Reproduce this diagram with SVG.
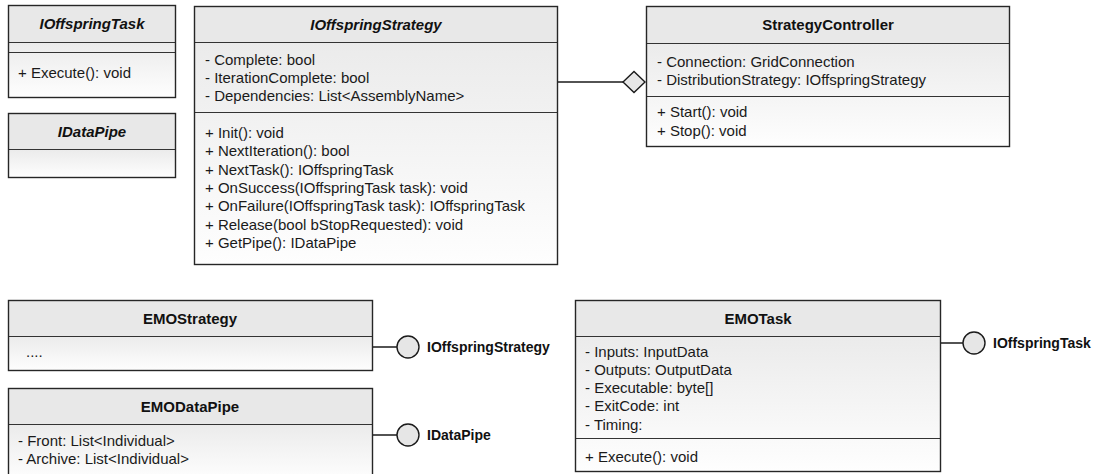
<svg xmlns="http://www.w3.org/2000/svg" width="1094" height="474" viewBox="0 0 1094 474">
<style>
  .hdr { fill: #e8e8e8; stroke: none; }
  .body { fill: url(#bodyGrad); stroke: none; }
  .frame { fill: none; stroke: #262626; stroke-width: 1.4; }
  .div { stroke: #333; stroke-width: 1.1; }
  .title { font-family: "Liberation Sans", Arial, sans-serif; font-size: 15px; font-weight: bold; fill: #111; text-anchor: middle; }
  .ital { font-style: italic; }
  .txt { font-family: "Liberation Sans", Arial, sans-serif; font-size: 15px; fill: #1a1a1a; }
  .lbl { font-family: "Liberation Sans", Arial, sans-serif; font-size: 14px; font-weight: bold; fill: #111; }
  .conn { stroke: #1a1a1a; stroke-width: 1.5; fill: none; }
  .lolly { fill: #e6e6e6; stroke: #1a1a1a; stroke-width: 1.4; }
</style>
<defs>
  <linearGradient id="bodyGrad" x1="0" y1="0" x2="0" y2="1">
    <stop offset="0" stop-color="#ebebeb"/>
    <stop offset="1" stop-color="#fefefe"/>
  </linearGradient>
</defs>

<g id="IOffspringTask">
  <rect class="hdr" x="8.5" y="5.5" width="167" height="37"/>
  <rect class="body" x="8.5" y="42.5" width="167" height="55"/>
  <line class="div" x1="8.5" y1="42.5" x2="175.5" y2="42.5"/>
  <line class="div" x1="8.5" y1="52.5" x2="175.5" y2="52.5"/>
  <rect class="frame" x="8.5" y="5.5" width="167" height="92"/>
  <text class="title ital" x="92" y="29">IOffspringTask</text>
  <text class="txt" x="18" y="78">+ Execute(): void</text>
</g>

<g id="IDataPipe">
  <rect class="hdr" x="8.5" y="113.5" width="167" height="36"/>
  <rect class="body" x="8.5" y="149.5" width="167" height="28"/>
  <line class="div" x1="8.5" y1="149.5" x2="175.5" y2="149.5"/>
  <rect class="frame" x="8.5" y="113.5" width="167" height="64"/>
  <text class="title ital" x="92" y="136.5">IDataPipe</text>
</g>

<g id="IOffspringStrategy">
  <rect class="hdr" x="194.5" y="6.5" width="363" height="36"/>
  <rect class="body" x="194.5" y="42.5" width="363" height="222"/>
  <line class="div" x1="194.5" y1="42.5" x2="557.5" y2="42.5"/>
  <line class="div" x1="194.5" y1="112.5" x2="557.5" y2="112.5"/>
  <rect class="frame" x="194.5" y="6.5" width="363" height="258"/>
  <text class="title ital" x="376" y="29.5">IOffspringStrategy</text>
  <text class="txt" x="205" y="65">- Complete: bool</text>
  <text class="txt" x="205" y="83">- IterationComplete: bool</text>
  <text class="txt" x="205" y="101">- Dependencies: List&lt;AssemblyName&gt;</text>
  <text class="txt" x="205" y="138">+ Init(): void</text>
  <text class="txt" x="205" y="156.3">+ NextIteration(): bool</text>
  <text class="txt" x="205" y="174.6">+ NextTask(): IOffspringTask</text>
  <text class="txt" x="205" y="192.9">+ OnSuccess(IOffspringTask task): void</text>
  <text class="txt" x="205" y="211.2">+ OnFailure(IOffspringTask task): IOffspringTask</text>
  <text class="txt" x="205" y="229.5">+ Release(bool bStopRequested): void</text>
  <text class="txt" x="205" y="247.8">+ GetPipe(): IDataPipe</text>
</g>

<g id="StrategyController">
  <rect class="hdr" x="646.5" y="6.5" width="363" height="37"/>
  <rect class="body" x="646.5" y="43.5" width="363" height="103"/>
  <line class="div" x1="646.5" y1="43.5" x2="1009.5" y2="43.5"/>
  <line class="div" x1="646.5" y1="96.5" x2="1009.5" y2="96.5"/>
  <rect class="frame" x="646.5" y="6.5" width="363" height="140"/>
  <text class="title" x="828" y="30">StrategyController</text>
  <text class="txt" x="657" y="67">- Connection: GridConnection</text>
  <text class="txt" x="657" y="85">- DistributionStrategy: IOffspringStrategy</text>
  <text class="txt" x="657" y="117">+ Start(): void</text>
  <text class="txt" x="657" y="135.5">+ Stop(): void</text>
</g>

<g id="EMOStrategy">
  <rect class="hdr" x="8.5" y="300.5" width="364" height="36"/>
  <rect class="body" x="8.5" y="336.5" width="364" height="34"/>
  <line class="div" x1="8.5" y1="336.5" x2="372.5" y2="336.5"/>
  <rect class="frame" x="8.5" y="300.5" width="364" height="70"/>
  <text class="title" x="190" y="324">EMOStrategy</text>
  <text class="txt" x="26" y="357" fill="#555">....</text>
</g>

<g id="EMODataPipe">
  <rect class="hdr" x="8.5" y="388.5" width="364" height="36"/>
  <rect class="body" x="8.5" y="424.5" width="364" height="56"/>
  <line class="div" x1="8.5" y1="424.5" x2="372.5" y2="424.5"/>
  <rect class="frame" x="8.5" y="388.5" width="364" height="92"/>
  <text class="title" x="190" y="412">EMODataPipe</text>
  <text class="txt" x="18" y="446">- Front: List&lt;Individual&gt;</text>
  <text class="txt" x="18" y="464">- Archive: List&lt;Individual&gt;</text>
</g>

<g id="EMOTask">
  <rect class="hdr" x="575.5" y="300.5" width="365" height="36"/>
  <rect class="body" x="575.5" y="336.5" width="365" height="135"/>
  <line class="div" x1="575.5" y1="336.5" x2="940.5" y2="336.5"/>
  <line class="div" x1="575.5" y1="438.5" x2="940.5" y2="438.5"/>
  <rect class="frame" x="575.5" y="300.5" width="365" height="171"/>
  <text class="title" x="758" y="323.5">EMOTask</text>
  <text class="txt" x="585" y="356.5">- Inputs: InputData</text>
  <text class="txt" x="585" y="374.8">- Outputs: OutputData</text>
  <text class="txt" x="585" y="393.1">- Executable: byte[]</text>
  <text class="txt" x="585" y="411.4">- ExitCode: int</text>
  <text class="txt" x="585" y="429.7">- Timing:</text>
  <text class="txt" x="585" y="461.5">+ Execute(): void</text>
</g>

<g id="connectors">
  <line class="conn" x1="558" y1="82" x2="623" y2="82"/>
  <polygon class="lolly" points="623,82 634,71.5 645,82 634,92.5"/>
  <line class="conn" x1="373" y1="347" x2="397" y2="347"/>
  <circle class="lolly" cx="408" cy="347" r="11"/>
  <line class="conn" x1="373" y1="435" x2="397" y2="435"/>
  <circle class="lolly" cx="408" cy="435" r="11"/>
  <line class="conn" x1="941" y1="343" x2="963" y2="343"/>
  <circle class="lolly" cx="974" cy="343" r="11"/>
</g>

<g id="labels">
  <text class="lbl" x="427" y="352">IOffspringStrategy</text>
  <text class="lbl" x="427" y="440">IDataPipe</text>
  <text class="lbl" x="993" y="348">IOffspringTask</text>
</g>
</svg>
